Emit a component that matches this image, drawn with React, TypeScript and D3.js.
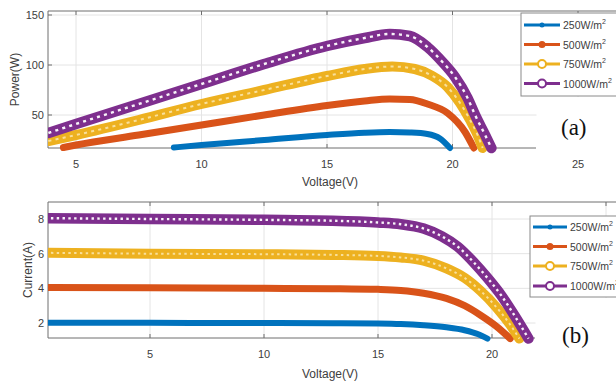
import React from "react";
import * as d3 from "d3";

// Irradiance levels shown in both panels
const irradiance = ["250", "500", "750", "1000"];
const seriesColors = ["#0072BD", "#D95319", "#EDB120", "#7E2F8E"];

// P-V curves [voltage, power]
const pv250: [number, number][] = [
  [8.9, 17.5], [10, 20], [12.5, 25], [15, 30], [16.5, 32.3], [17.5, 33], [18.3, 32.5],
  [19, 31], [19.5, 26.5], [19.9, 17],
];
const pv500: [number, number][] = [
  [4.5, 17.5], [5, 20], [7.5, 30], [10, 40], [12.5, 50], [15, 59.5], [16.5, 64],
  [17.5, 66], [18.3, 65.5], [19, 61], [19.8, 52], [20.5, 33], [20.85, 17],
];
const pv750: [number, number][] = [
  [3.9, 24], [5, 30], [7.5, 45], [10, 61], [12.5, 75], [15, 89], [16.5, 96],
  [17.6, 98.5], [18.5, 96], [19.2, 89], [19.8, 78], [20.3, 62], [20.7, 45], [21.0, 30], [21.2, 17],
];
const pv1000: [number, number][] = [
  [3.9, 32], [5, 41], [7.5, 61], [10, 81], [12.5, 101], [15, 119], [16.5, 127],
  [17.5, 131], [18.3, 129], [19, 118], [19.6, 103], [20.1, 88], [20.6, 67], [20.9, 50],
  [21.3, 30], [21.55, 17],
];

// I-V curves [voltage, current]
const iv250: [number, number][] = [
  [0.4, 2.02], [5, 2.01], [10, 2.0], [13, 1.99], [15, 1.97], [16, 1.94], [17, 1.87],
  [18, 1.75], [18.8, 1.58], [19.4, 1.35], [19.8, 1.1],
];
const iv500: [number, number][] = [
  [0.4, 4.05], [5, 4.03], [10, 4.0], [13, 3.98], [15, 3.94], [16, 3.88], [17, 3.72],
  [18, 3.42], [18.8, 3.0], [19.5, 2.45], [20.2, 1.8], [20.8, 1.1],
];
const iv750: [number, number][] = [
  [0.4, 6.05], [5, 6.0], [10, 5.97], [13, 5.93], [15, 5.87], [16, 5.78], [17, 5.6],
  [18, 5.15], [18.8, 4.6], [19.5, 3.85], [20.2, 2.9], [20.8, 1.9], [21.2, 1.1],
];
const iv1000: [number, number][] = [
  [0.4, 8.05], [5, 8.0], [10, 7.95], [13, 7.9], [15, 7.8], [16, 7.7], [17, 7.45],
  [17.8, 7.0], [18.5, 6.4], [19.2, 5.5], [19.8, 4.6], [20.4, 3.6], [21, 2.4], [21.6, 1.1],
];

const voltageTicks = [5, 10, 15, 20, 25];
const powerTicks = [50, 100, 150];
const currentTicks = [2, 4, 6, 8];

const FONT = "'Liberation Sans', Arial, sans-serif";
const AXIS = "#6e6e6e";
const GRID = "#e4e4e4";
const TEXT = "#404040";

interface PanelProps {
  id: string;
  series: [number, number][][];
  x: d3.ScaleLinear<number, number>;
  y: d3.ScaleLinear<number, number>;
  xTicks: number[];
  yTicks: number[];
  left: number;
  top: number;
  bottom: number;
  axisEnd: number;
  yLabel: string;
  yLabelX: number;
  xLabelY: number;
  tickLabelY: number;
  dash: number; // spacing of the ring markers
  legend: { x: number; y: number; h: number; lineX: number; lineW: number; textX: number; rows: number[] };
  cover: { x: number; y: number; w: number; h: number };
  tag: string;
  tagX: number;
  tagY: number;
}

const Panel: React.FC<PanelProps> = (p) => {
  const line = d3
    .line<[number, number]>()
    .x((d) => p.x(d[0]))
    .y((d) => p.y(d[1]))
    .curve(d3.curveMonotoneX);
  const widths = [6, 7, 10, 10.5];
  const right = 640;
  return (
    <g>
      <defs>
        <clipPath id={`clip-${p.id}`}>
          <rect x={p.left} y={p.top - 10} width={right - p.left} height={p.bottom - p.top + 16} />
        </clipPath>
      </defs>
      {/* grid */}
      {p.xTicks.map((t) => (
        <line key={`gx${t}`} x1={p.x(t)} x2={p.x(t)} y1={p.top} y2={p.bottom} stroke={GRID} />
      ))}
      {p.yTicks.map((t) => (
        <line key={`gy${t}`} x1={p.left} x2={right} y1={p.y(t)} y2={p.y(t)} stroke={GRID} />
      ))}
      {/* box */}
      <line x1={p.left} x2={right} y1={p.top} y2={p.top} stroke={AXIS} />
      <line x1={p.left} x2={p.left} y1={p.top} y2={p.bottom} stroke={AXIS} />
      <line x1={p.left} x2={p.axisEnd} y1={p.bottom} y2={p.bottom} stroke={AXIS} />
      {p.xTicks.map((t) => (
        <g key={`tx${t}`}>
          <line x1={p.x(t)} x2={p.x(t)} y1={p.bottom} y2={p.bottom - 4} stroke={AXIS} />
          <line x1={p.x(t)} x2={p.x(t)} y1={p.top} y2={p.top + 4} stroke={AXIS} />
          <text x={p.x(t)} y={p.tickLabelY} textAnchor="middle" fontSize={11} fill={TEXT} fontFamily={FONT}>
            {t}
          </text>
        </g>
      ))}
      {p.yTicks.map((t) => (
        <g key={`ty${t}`}>
          <line x1={p.left} x2={p.left + 4} y1={p.y(t)} y2={p.y(t)} stroke={AXIS} />
          <text x={p.left - 4} y={p.y(t) + 4} textAnchor="end" fontSize={11} fill={TEXT} fontFamily={FONT}>
            {t}
          </text>
        </g>
      ))}
      {/* curves */}
      <g clipPath={`url(#clip-${p.id})`}>
        {p.series.map((s, i) => (
          <g key={i}>
            <path d={line(s) || ""} fill="none" stroke={seriesColors[i]} strokeWidth={widths[i]} strokeLinecap="round" />
            {i >= 2 && (
              <path
                d={line(s) || ""}
                fill="none"
                stroke={i === 3 ? "#ffffff" : "#f9e4a8"}
                strokeWidth={i === 3 ? 2.4 : 2}
                strokeDasharray={`${p.dash * 0.42} ${p.dash * 0.58}`}
                opacity={i === 3 ? 0.95 : 0.9}
              />
            )}
          </g>
        ))}
      </g>
      {/* white patch with panel tag */}
      <rect x={p.cover.x} y={p.cover.y} width={p.cover.w} height={p.cover.h} fill="#fff" />
      <text x={p.tagX} y={p.tagY} fontSize={23} fontFamily="'Liberation Serif', 'Times New Roman', serif" fill="#111">
        {p.tag}
      </text>
      {/* axis labels */}
      <text x={330} y={p.xLabelY} textAnchor="middle" fontSize={12} fill={TEXT} fontFamily={FONT}>
        Voltage(V)
      </text>
      <text
        transform={`translate(${p.yLabelX},${(p.top + p.bottom) / 2}) rotate(-90)`}
        textAnchor="middle"
        fontSize={12}
        fill={TEXT}
        fontFamily={FONT}
      >
        {p.yLabel}
      </text>
      {/* legend */}
      <rect x={p.legend.x} y={p.legend.y} width={120} height={p.legend.h} fill="#fff" stroke="#8a8a8a" />
      {irradiance.map((lab, i) => {
        const ly = p.legend.rows[i];
        const mx = p.legend.lineX + p.legend.lineW / 2;
        return (
          <g key={lab}>
            <line x1={p.legend.lineX} x2={p.legend.lineX + p.legend.lineW} y1={ly} y2={ly} stroke={seriesColors[i]} strokeWidth={3} />
            {i < 2 ? (
              <circle cx={mx} cy={ly} r={i === 0 ? 2.5 : 3.5} fill={seriesColors[i]} />
            ) : (
              <circle cx={mx} cy={ly} r={4} fill="#fff" stroke={seriesColors[i]} strokeWidth={2} />
            )}
            <text x={p.legend.textX} y={ly + 4} fontSize={10.5} fill={TEXT} fontFamily={FONT}>
              {lab}W/m
              <tspan dy={-5} fontSize={7}>
                2
              </tspan>
            </text>
          </g>
        );
      })}
    </g>
  );
};

export default function App() {
  const xTop = d3.scaleLinear().domain([5, 25]).range([76, 578]);
  const yTop = d3.scaleLinear().domain([50, 150]).range([115, 15]);
  const xBot = d3.scaleLinear().domain([5, 20]).range([150, 492]);
  const yBot = d3.scaleLinear().domain([2, 8]).range([323, 219]);

  return (
    <svg
      width={616}
      height={381}
      style={{ position: "absolute", left: 0, top: 0, background: "#fff" }}
    >
      <Panel
        id="pv"
        series={[pv250, pv500, pv750, pv1000]}
        x={xTop}
        y={yTop}
        xTicks={voltageTicks}
        yTicks={powerTicks}
        left={48}
        top={11}
        bottom={148}
        axisEnd={536}
        yLabel="Power(W)"
        yLabelX={19}
        xLabelY={186}
        tickLabelY={168}
        dash={7.3}
        legend={{ x: 521, y: 13, h: 83, lineX: 524, lineW: 36, textX: 563, rows: [25, 44.5, 64, 83.5] }}
        cover={{ x: 536.5, y: 97, w: 90, h: 54 }}
        tag="(a)"
        tagX={561}
        tagY={135}
      />
      <Panel
        id="iv"
        series={[iv250, iv500, iv750, iv1000]}
        x={xBot}
        y={yBot}
        xTicks={voltageTicks}
        yTicks={currentTicks}
        left={48}
        top={202}
        bottom={338}
        axisEnd={535}
        yLabel="Current(A)"
        yLabelX={32}
        xLabelY={378}
        tickLabelY={358}
        dash={5.8}
        legend={{ x: 530, y: 216, h: 81, lineX: 533, lineW: 34, textX: 570, rows: [227, 246.5, 266, 286] }}
        cover={{ x: 535.5, y: 298, w: 90, h: 90 }}
        tag="(b)"
        tagX={562}
        tagY={343}
      />
    </svg>
  );
}
